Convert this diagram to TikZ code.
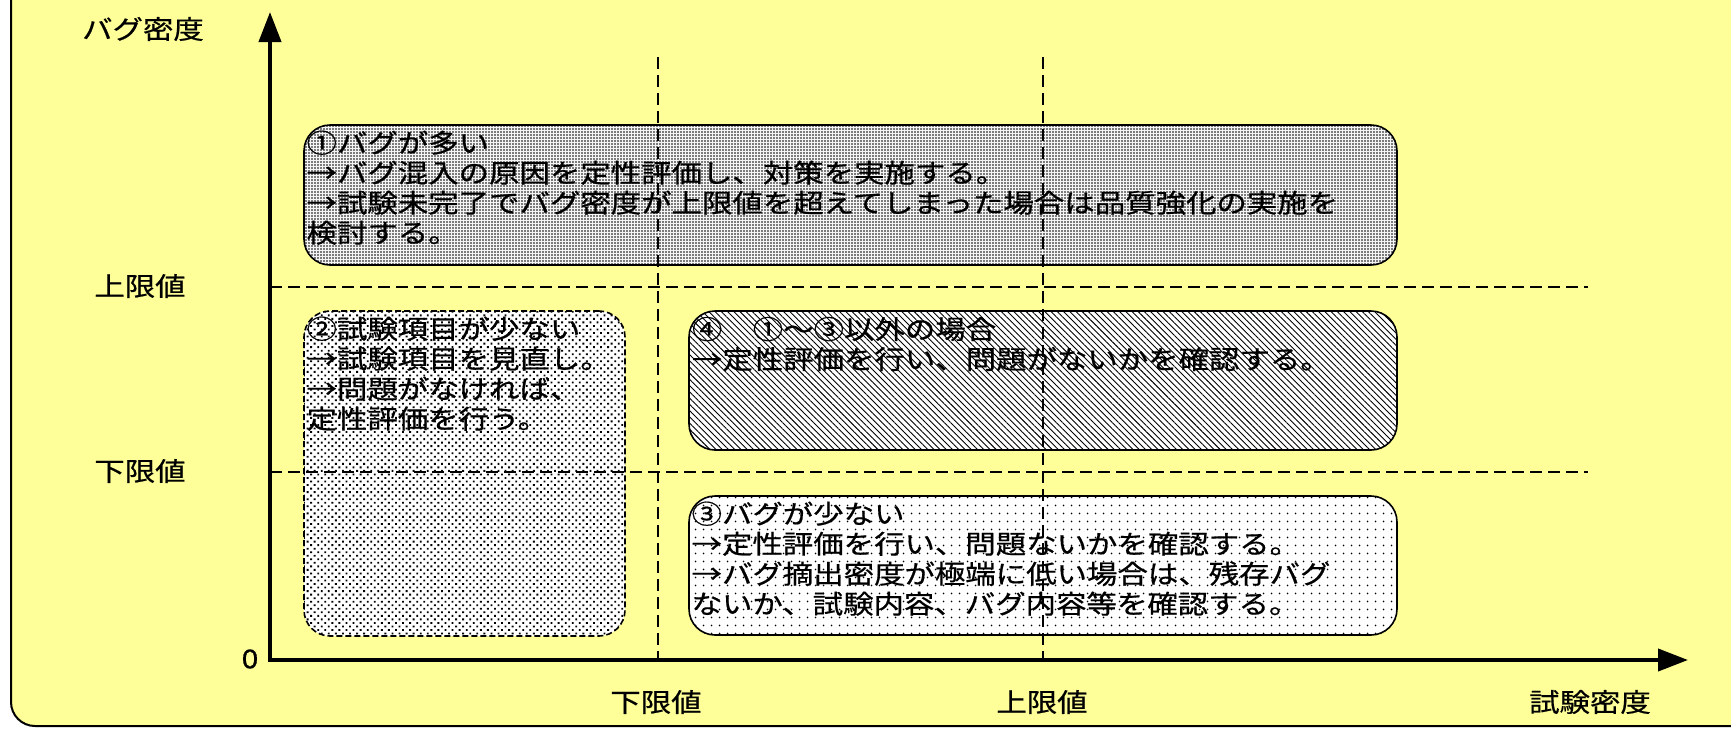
\documentclass[tikz,border=0pt]{standalone}
\usepackage{fontspec}
\newfontfamily\jp[FakeStretch=1.17,FakeBold=0.6]{Noto Sans CJK JP}
\usetikzlibrary{arrows.meta,patterns.meta,calc}
\definecolor{bgyellow}{HTML}{FFFF99}
\begin{document}
\begin{tikzpicture}[x=0.5pt,y=-0.5pt,
  lbl/.style={font=\jp\fontsize{13pt}{15pt}\selectfont, inner sep=0pt},
  txt/.style={lbl, align=left, anchor=north west},
  box/.style={draw=black, line width=0.8pt, rounded corners=13pt, inner sep=0pt},
  guide/.style={draw=black, line width=0.7pt, dash pattern=on 6pt off 3pt},
  axis/.style={draw=black, line width=2pt, miter limit=10,
    {Triangle[width=11pt,length=15pt]}-{Triangle[width=11pt,length=15pt]}}
]
\useasboundingbox (0,0) rectangle (1731,729);
\clip (0,0) rectangle (1731,729);
% background
\path[fill=bgyellow, draw=black, line width=1pt, rounded corners=12pt] (11,-40) rectangle (1790,726);

% boxes
\node[box, minimum width=546.5pt, minimum height=70pt,
  preaction={fill=gray!8}, pattern={Dots[distance=1.5pt, radius=0.41pt]}] (b1) at (850.5,195) {};
\node[box, dash pattern=on 3pt off 1.5pt, minimum width=160.5pt, minimum height=162.5pt,
  preaction={fill=white}, pattern={Dots[angle=45, distance=2.5pt, radius=0.65pt]}] (b2) at (464.5,473.5) {};
\node[box, minimum width=354pt, minimum height=69.5pt,
  preaction={fill=white}, pattern={Lines[angle=-45, distance=2.2pt, line width=0.45pt]}] (b4) at (1043,380.5) {};
\node[box, minimum width=354pt, minimum height=69.5pt,
  preaction={fill=white}, pattern={Dots[distance=4pt, radius=0.5pt]}] (b3) at (1043,565.5) {};

% box texts
\node[txt] (t1) at ([xshift=1.5pt,yshift=-3pt]b1.north west)
  {①バグが多い\\→バグ混入の原因を定性評価し、対策を実施する。\\→試験未完了でバグ密度が上限値を超えてしまった場合は品質強化の実施を\\検討する。};
\node[txt] (t2) at ([xshift=1.5pt,yshift=-3pt]b2.north west)
  {②試験項目が少ない\\→試験項目を見直し。\\→問題がなければ、\\定性評価を行う。};
\node[txt] (t4) at ([xshift=1.5pt,yshift=-3pt]b4.north west)
  {④　①～③以外の場合\\→定性評価を行い、問題がないかを確認する。};
\node[txt] (t3) at ([xshift=1.5pt,yshift=-3pt]b3.north west)
  {③バグが少ない\\→定性評価を行い、問題ないかを確認する。\\→バグ摘出密度が極端に低い場合は、残存バグ\\ないか、試験内容、バグ内容等を確認する。};

% guide lines
\coordinate (O) at (270,660);
\coordinate (ytip) at (270,12);
\coordinate (xtip) at (1688,660);
\coordinate (h1a) at (270,287);
\coordinate (h1b) at (1588,287);
\coordinate (h2a) at (270,472);
\coordinate (h2b) at (1588,472);
\coordinate (v1a) at (658,57);
\coordinate (v1b) at (658,660);
\coordinate (v2a) at (1043,57);
\coordinate (v2b) at (1043,660);
\draw[guide] (h1a) -- (h1b);
\draw[guide] (h2a) -- (h2b);
\draw[guide] (v1a) -- (v1b);
\draw[guide] (v2a) -- (v2b);

% axes
\draw[axis] (ytip) -- (O) -- (xtip);

% axis labels
\node[lbl] (ylab) at (143,29) {バグ密度};
\node[lbl] (yhi) at (140,286) {上限値};
\node[lbl] (ylo) at (140,471) {下限値};
\node[lbl] (zero) at (250,659) {0};
\node[lbl] (xlo) at (656,702) {下限値};
\node[lbl] (xhi) at (1042,702) {上限値};
\node[lbl] (xlab) at (1590,702) {試験密度};
\end{tikzpicture}
\end{document}
